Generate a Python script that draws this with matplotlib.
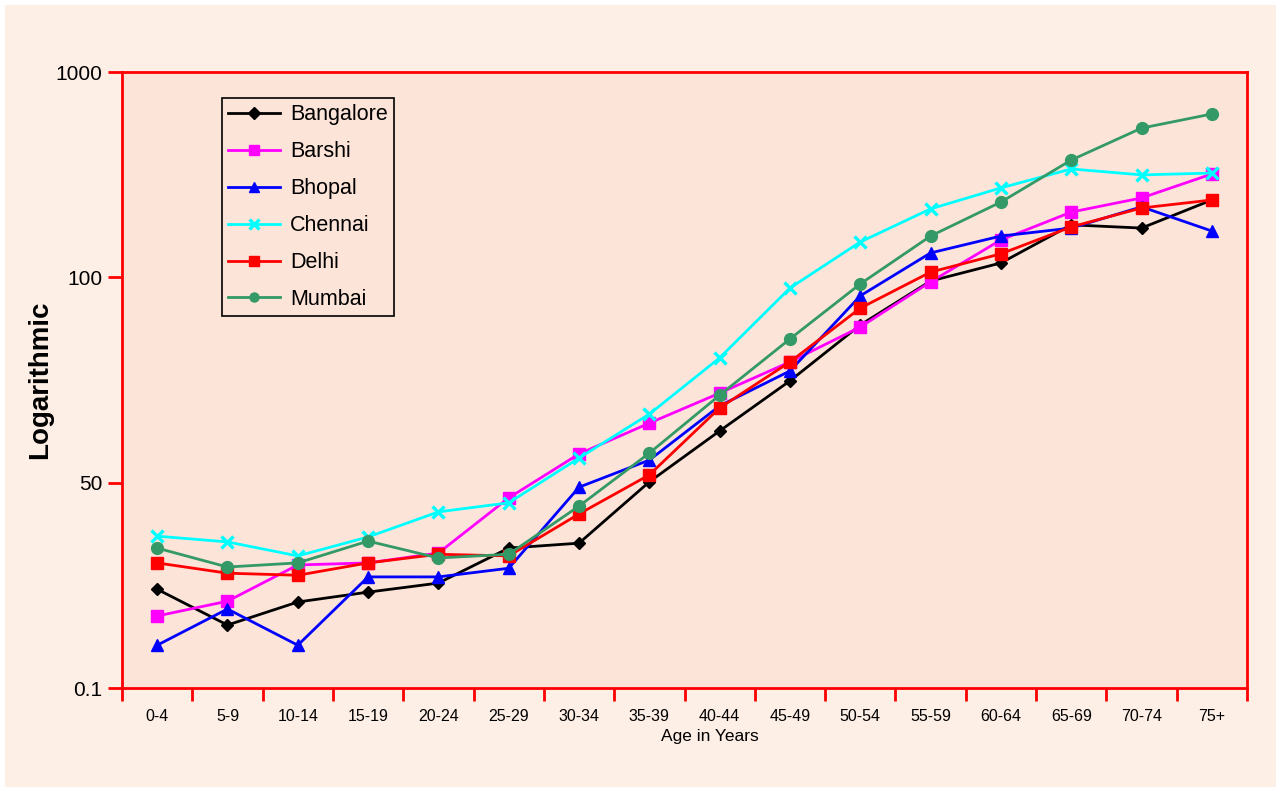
import matplotlib.pyplot as plt
import matplotlib.patches as mpatches
import numpy as np

plt.rcParams['font.family'] = ['Liberation Sans', 'DejaVu Sans']

age_groups = ['0-4', '5-9', '10-14', '15-19', '20-24', '25-29', '30-34', '35-39',
              '40-44', '45-49', '50-54', '55-59', '60-64', '65-69', '70-74', '75+']

bangalore = [24.1, 15.4, 21.0, 23.4, 25.6, 34.1, 35.3, 50.2, 62.6, 74.8, 88.4, 99.1, 163, 330, 316, 439]
barshi = [17.6, 21.2, 30.0, 30.5, 32.9, 46.3, 57.0, 64.5, 71.8, 79.4, 87.9, 98.9, 264, 386, 448, 553]
bhopal = [10.5, 19.3, 10.5, 27.1, 27.1, 29.2, 48.9, 55.5, 68.7, 77.2, 95.5, 207, 281, 316, 409, 303]
chennai = [37.0, 35.6, 32.2, 36.8, 42.9, 45.1, 56.0, 66.7, 80.4, 97.4, 255, 400, 492, 575, 549, 557]
delhi = [30.5, 28.0, 27.5, 30.5, 32.6, 32.2, 42.4, 51.9, 68.2, 79.4, 92.5, 123, 203, 321, 404, 439]
mumbai = [34.1, 29.5, 30.5, 35.8, 31.7, 32.6, 44.3, 57.2, 71.3, 85.0, 98.4, 281, 430, 614, 754, 816]

# the original axis puts these labels at equal spacing
ytick_vals = [0.1, 50, 100, 1000]
ytick_pos = [0, 1, 2, 3]


def fwd(v):
    return np.interp(v, ytick_vals, ytick_pos)


def inv(p):
    return np.interp(p, ytick_pos, ytick_vals)


series = [
    ('Bangalore', bangalore, 'black', 'D', 6.5),
    ('Barshi', barshi, '#ff00ff', 's', 8),
    ('Bhopal', bhopal, '#0000ff', '^', 9),
    ('Chennai', chennai, '#00ffff', 'x', 9),
    ('Delhi', delhi, '#ff0000', 's', 8),
    ('Mumbai', mumbai, '#339966', 'o', 8.5),
]

fig = plt.figure(figsize=(12.81, 7.92), dpi=100, facecolor='white')
fig.patches.append(mpatches.Rectangle((5 / 1281, 5 / 792), 1 - 10 / 1281, 1 - 10 / 792,
                                      transform=fig.transFigure, facecolor='#fdeee6',
                                      edgecolor='none', zorder=-10))
ax = fig.add_axes([122 / 1281, 1 - 688 / 792, 1125 / 1281, 616 / 792])
ax.set_facecolor('#fde4d9')

x = np.arange(len(age_groups))
for name, vals, col, mk, ms in series:
    ax.plot(x, vals, color=col, marker=mk, markersize=ms, linewidth=2, label=name,
            markeredgewidth=2.4 if mk == 'x' else 1, clip_on=False)

ax.set_yscale('function', functions=(fwd, inv))
ax.set_ylim(0.1, 1000)
ax.set_yticks(ytick_vals)
ax.set_yticklabels(['0.1', '50', '100', '1000'], fontsize=15)
ax.minorticks_off()

ax.set_xlim(-0.5, len(age_groups) - 0.5)
ax.set_xticks(np.arange(-0.5, len(age_groups) - 0.4, 1))
ax.set_xticklabels([])
ax.set_xticks(x, minor=True)
ax.set_xticklabels(age_groups, minor=True, fontsize=11.5)
ax.tick_params(axis='x', which='major', length=9, width=2, color='red', direction='out')
ax.tick_params(axis='x', which='minor', length=0, pad=15)
ax.tick_params(axis='y', length=10, width=2, color='red', direction='out', pad=4)

for s in ax.spines.values():
    s.set_color('red')
    s.set_linewidth(2)

ax.set_xlabel('Age in Years', fontsize=12.5, labelpad=4, x=0.5227)
ax.set_ylabel('Logarithmic', fontsize=20, fontweight='bold', labelpad=2)

leg = ax.legend(loc='upper left', bbox_to_anchor=(0.0889, 0.958), borderaxespad=0,
                fontsize=15.5, fancybox=False, edgecolor='black', facecolor='#fde4d9',
                framealpha=1, handlelength=2.4, labelspacing=0.74, borderpad=0.3,
                handletextpad=0.45)
leg.get_frame().set_linewidth(1.2)
for h in leg.legend_handles:
    h.set_markersize(6.5)

fig.savefig('out.png', dpi=100, facecolor=fig.get_facecolor())
